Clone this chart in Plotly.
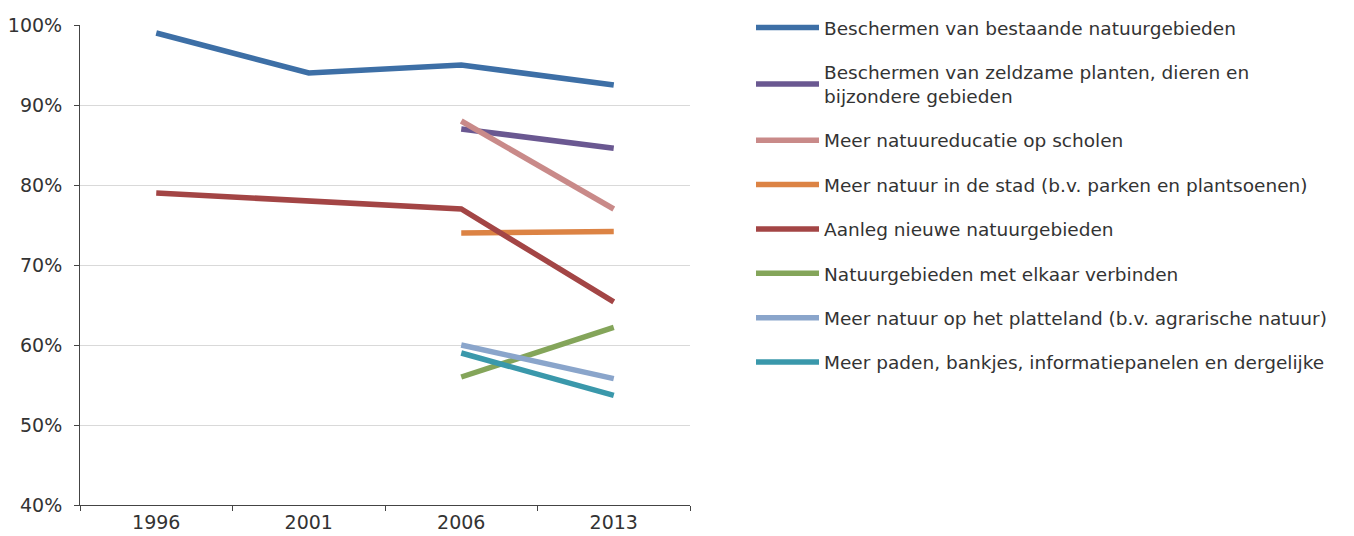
import plotly.graph_objects as go

years = ["1996", "2001", "2006", "2013"]
series_names = [
    "Beschermen van bestaande natuurgebieden",
    "Beschermen van zeldzame planten, dieren en<br>bijzondere gebieden",
    "Meer natuureducatie op scholen",
    "Meer natuur in de stad (b.v. parken en plantsoenen)",
    "Aanleg nieuwe natuurgebieden",
    "Natuurgebieden met elkaar verbinden",
    "Meer natuur op het platteland (b.v. agrarische natuur)",
    "Meer paden, bankjes, informatiepanelen en dergelijke",
]
beschermen_bestaand = [99, 94, 95, 92.5]
beschermen_zeldzaam = [None, None, 87, 84.6]
natuureducatie = [None, None, 88, 77]
natuur_stad = [None, None, 74, 74.2]
aanleg_nieuw = [79, 78, 77, 65.4]
verbinden = [None, None, 56, 62.2]
platteland = [None, None, 60, 55.8]
paden = [None, None, 59, 53.7]
series_values = [beschermen_bestaand, beschermen_zeldzaam, natuureducatie, natuur_stad,
                 aanleg_nieuw, verbinden, platteland, paden]
colors = ["#3d6fa6", "#6a5891", "#c98a89", "#dc8344", "#a34545", "#84a55a", "#8aa5cb", "#3a98ab"]
y_ticks = [40, 50, 60, 70, 80, 90, 100]
y_tick_labels = [f"{v}%" for v in y_ticks]

FONT = "DejaVu Sans, Verdana, sans-serif"
fig = go.Figure()
for i, (name, vals, col) in enumerate(zip(series_names, series_values, colors)):
    fig.add_trace(go.Scatter(
        x=years, y=vals, name=name, mode="lines",
        line=dict(color=col, width=5.5), legendgroup=f"g{i}",
        connectgaps=False,
    ))

# the page body has an 8px margin, so the figure is sized/shifted to compensate
fig.update_layout(
    width=1346, height=528,
    margin=dict(l=72, r=664, t=0, b=31, autoexpand=False),
    plot_bgcolor="white", paper_bgcolor="white",
    font=dict(family=FONT, size=18.5, color="#333333"),
    showlegend=True,
    legend=dict(
        x=1.1, xanchor="left", y=0.998, yanchor="top",
        traceorder="grouped", tracegroupgap=17.3, maxheight=520,
        itemwidth=63, font=dict(size=18.5, color="#333333"),
        bgcolor="rgba(0,0,0,0)",
    ),
    xaxis=dict(
        type="category", range=[-0.5, 3.5],
        showline=True, linecolor="#444444", linewidth=1,
        ticks="outside", tickson="boundaries", ticklen=5, tickcolor="#444444",
        showgrid=False, tickfont=dict(size=19),
    ),
    yaxis=dict(
        range=[40, 100], tickvals=y_ticks, ticktext=y_tick_labels,
        domain=[0, 480 / 497],
        showline=True, linecolor="#444444", linewidth=1,
        ticks="outside", ticklen=5, tickcolor="#444444", ticklabelstandoff=8,
        showgrid=True, gridcolor="#d9d9d9", gridwidth=1,
        zeroline=False, tickfont=dict(size=19),
    ),
)
fig.write_html("out.html")
